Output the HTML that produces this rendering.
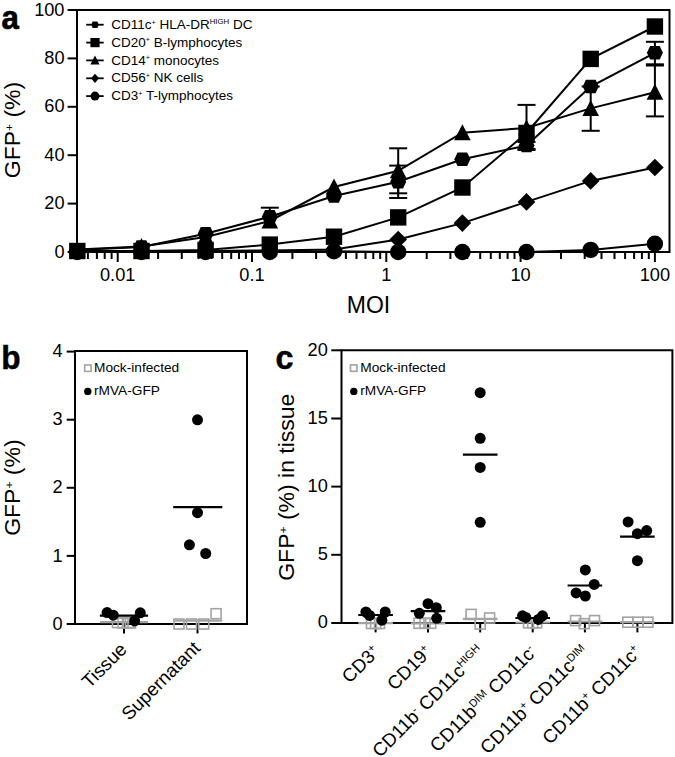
<!DOCTYPE html>
<html><head><meta charset="utf-8"><style>
html,body{margin:0;padding:0;background:#fff;}
svg{display:block;}
</style></head><body>
<svg width="675" height="757" viewBox="0 0 675 757" font-family='"Liberation Sans", sans-serif' fill="#000">
<rect width="675" height="757" fill="#fff"/>
<path d="M77.0,10.0 H669.5 V252.0 H77.0 Z" fill="none" stroke="#000" stroke-width="2.0"/>
<line x1="67.6" y1="252.0" x2="77.0" y2="252.0" stroke="#000" stroke-width="2.0"/>
<text x="64.5" y="257.6" font-size="18.2" text-anchor="end">0</text>
<line x1="67.6" y1="203.6" x2="77.0" y2="203.6" stroke="#000" stroke-width="2.0"/>
<text x="64.5" y="209.2" font-size="18.2" text-anchor="end">20</text>
<line x1="67.6" y1="155.2" x2="77.0" y2="155.2" stroke="#000" stroke-width="2.0"/>
<text x="64.5" y="160.8" font-size="18.2" text-anchor="end">40</text>
<line x1="67.6" y1="106.8" x2="77.0" y2="106.8" stroke="#000" stroke-width="2.0"/>
<text x="64.5" y="112.4" font-size="18.2" text-anchor="end">60</text>
<line x1="67.6" y1="58.4" x2="77.0" y2="58.4" stroke="#000" stroke-width="2.0"/>
<text x="64.5" y="64.0" font-size="18.2" text-anchor="end">80</text>
<line x1="67.6" y1="10.0" x2="77.0" y2="10.0" stroke="#000" stroke-width="2.0"/>
<text x="64.5" y="15.6" font-size="18.2" text-anchor="end">100</text>
<line x1="87.9" y1="252.0" x2="87.9" y2="259" stroke="#000" stroke-width="2.0"/>
<line x1="96.9" y1="252.0" x2="96.9" y2="259" stroke="#000" stroke-width="2.0"/>
<line x1="104.7" y1="252.0" x2="104.7" y2="259" stroke="#000" stroke-width="2.0"/>
<line x1="111.6" y1="252.0" x2="111.6" y2="259" stroke="#000" stroke-width="2.0"/>
<line x1="117.7" y1="252.0" x2="117.7" y2="262" stroke="#000" stroke-width="2.0"/>
<line x1="158.1" y1="252.0" x2="158.1" y2="259" stroke="#000" stroke-width="2.0"/>
<line x1="181.8" y1="252.0" x2="181.8" y2="259" stroke="#000" stroke-width="2.0"/>
<line x1="198.6" y1="252.0" x2="198.6" y2="259" stroke="#000" stroke-width="2.0"/>
<line x1="211.6" y1="252.0" x2="211.6" y2="259" stroke="#000" stroke-width="2.0"/>
<line x1="222.2" y1="252.0" x2="222.2" y2="259" stroke="#000" stroke-width="2.0"/>
<line x1="231.2" y1="252.0" x2="231.2" y2="259" stroke="#000" stroke-width="2.0"/>
<line x1="239.0" y1="252.0" x2="239.0" y2="259" stroke="#000" stroke-width="2.0"/>
<line x1="245.9" y1="252.0" x2="245.9" y2="259" stroke="#000" stroke-width="2.0"/>
<line x1="252.0" y1="252.0" x2="252.0" y2="262" stroke="#000" stroke-width="2.0"/>
<line x1="292.4" y1="252.0" x2="292.4" y2="259" stroke="#000" stroke-width="2.0"/>
<line x1="316.1" y1="252.0" x2="316.1" y2="259" stroke="#000" stroke-width="2.0"/>
<line x1="332.9" y1="252.0" x2="332.9" y2="259" stroke="#000" stroke-width="2.0"/>
<line x1="345.9" y1="252.0" x2="345.9" y2="259" stroke="#000" stroke-width="2.0"/>
<line x1="356.5" y1="252.0" x2="356.5" y2="259" stroke="#000" stroke-width="2.0"/>
<line x1="365.5" y1="252.0" x2="365.5" y2="259" stroke="#000" stroke-width="2.0"/>
<line x1="373.3" y1="252.0" x2="373.3" y2="259" stroke="#000" stroke-width="2.0"/>
<line x1="380.2" y1="252.0" x2="380.2" y2="259" stroke="#000" stroke-width="2.0"/>
<line x1="386.3" y1="252.0" x2="386.3" y2="262" stroke="#000" stroke-width="2.0"/>
<line x1="426.7" y1="252.0" x2="426.7" y2="259" stroke="#000" stroke-width="2.0"/>
<line x1="450.4" y1="252.0" x2="450.4" y2="259" stroke="#000" stroke-width="2.0"/>
<line x1="467.2" y1="252.0" x2="467.2" y2="259" stroke="#000" stroke-width="2.0"/>
<line x1="480.2" y1="252.0" x2="480.2" y2="259" stroke="#000" stroke-width="2.0"/>
<line x1="490.8" y1="252.0" x2="490.8" y2="259" stroke="#000" stroke-width="2.0"/>
<line x1="499.8" y1="252.0" x2="499.8" y2="259" stroke="#000" stroke-width="2.0"/>
<line x1="507.6" y1="252.0" x2="507.6" y2="259" stroke="#000" stroke-width="2.0"/>
<line x1="514.5" y1="252.0" x2="514.5" y2="259" stroke="#000" stroke-width="2.0"/>
<line x1="520.6" y1="252.0" x2="520.6" y2="262" stroke="#000" stroke-width="2.0"/>
<line x1="561.0" y1="252.0" x2="561.0" y2="259" stroke="#000" stroke-width="2.0"/>
<line x1="584.7" y1="252.0" x2="584.7" y2="259" stroke="#000" stroke-width="2.0"/>
<line x1="601.5" y1="252.0" x2="601.5" y2="259" stroke="#000" stroke-width="2.0"/>
<line x1="614.5" y1="252.0" x2="614.5" y2="259" stroke="#000" stroke-width="2.0"/>
<line x1="625.1" y1="252.0" x2="625.1" y2="259" stroke="#000" stroke-width="2.0"/>
<line x1="634.1" y1="252.0" x2="634.1" y2="259" stroke="#000" stroke-width="2.0"/>
<line x1="641.9" y1="252.0" x2="641.9" y2="259" stroke="#000" stroke-width="2.0"/>
<line x1="648.8" y1="252.0" x2="648.8" y2="259" stroke="#000" stroke-width="2.0"/>
<line x1="654.9" y1="252.0" x2="654.9" y2="262" stroke="#000" stroke-width="2.0"/>
<text x="117.7" y="281.2" font-size="18.2" text-anchor="middle">0.01</text>
<text x="252.0" y="281.2" font-size="18.2" text-anchor="middle">0.1</text>
<text x="386.3" y="281.2" font-size="18.2" text-anchor="middle">1</text>
<text x="520.6" y="281.2" font-size="18.2" text-anchor="middle">10</text>
<text x="654.9" y="281.2" font-size="18.2" text-anchor="middle">100</text>
<text x="368.5" y="312.7" font-size="23" text-anchor="middle">MOI</text>
<text transform="translate(20.2,130) scale(0.95,1) rotate(-90)" font-size="23" text-anchor="middle">GFP<tspan font-size="12" dy="-7.5">+</tspan><tspan dy="7.5"> (%)</tspan></text>
<text transform="translate(1.4,28.8) scale(0.92,1)" font-size="34" font-weight="bold" stroke="#000" stroke-width="0.7">a</text>
<g stroke="#000" stroke-width="2" fill="none">
<line x1="654.9" y1="41.8" x2="654.9" y2="64.3"/><line x1="645.9" y1="41.8" x2="663.9" y2="41.8"/><line x1="645.9" y1="64.3" x2="663.9" y2="64.3"/>
<line x1="654.9" y1="65.5" x2="654.9" y2="116.4"/><line x1="645.9" y1="65.5" x2="663.9" y2="65.5"/><line x1="645.9" y1="116.4" x2="663.9" y2="116.4"/>
<line x1="590.7" y1="86.5" x2="590.7" y2="130.8"/><line x1="581.7" y1="86.5" x2="599.7" y2="86.5"/><line x1="581.7" y1="130.8" x2="599.7" y2="130.8"/>
<line x1="526.5" y1="104.9" x2="526.5" y2="150.0"/><line x1="517.5" y1="104.9" x2="535.5" y2="104.9"/><line x1="517.5" y1="150.0" x2="535.5" y2="150.0"/>
<line x1="398.2" y1="148.3" x2="398.2" y2="193.3"/><line x1="389.2" y1="148.3" x2="407.2" y2="148.3"/><line x1="389.2" y1="193.3" x2="407.2" y2="193.3"/>
<line x1="398.2" y1="165.6" x2="398.2" y2="198.0"/><line x1="389.2" y1="165.6" x2="407.2" y2="165.6"/><line x1="389.2" y1="198.0" x2="407.2" y2="198.0"/>
<line x1="269.8" y1="207.7" x2="269.8" y2="216.7"/><line x1="260.8" y1="207.7" x2="278.8" y2="207.7"/>
<line x1="526.5" y1="142.0" x2="526.5" y2="148.9"/><line x1="517.5" y1="142.0" x2="535.5" y2="142.0"/><line x1="517.5" y1="148.9" x2="535.5" y2="148.9"/>
<path d="M654.9,243.8 L590.7,249.9 L526.5,252.0 L462.4,252.0 L398.2,252.0 L334.0,251.3 L269.8,252.0 L205.6,252.0 L141.5,252.0 L77.3,252.0"/>
<path d="M654.9,167.5 L590.7,180.9 L526.5,201.9 L462.4,223.1 L398.2,239.5 L334.0,249.5 L269.8,250.5 L205.6,251.0 L141.5,251.0 L77.3,251.0"/>
<path d="M654.9,92.2 L590.7,108.4 L526.5,128.0 L462.4,132.7 L398.2,170.8 L334.0,187.0 L269.8,221.0 L205.6,237.0 L141.5,246.5 L77.3,249.5"/>
<path d="M654.9,26.5 L590.7,58.9 L526.5,133.0 L462.4,187.5 L398.2,217.4 L334.0,236.7 L269.8,244.6 L205.6,250.0 L141.5,251.0 L77.3,251.0"/>
<path d="M654.9,52.8 L590.7,86.5 L526.5,145.5 L462.4,159.3 L398.2,181.8 L334.0,196.0 L269.8,216.7 L205.6,233.8 L141.5,247.0 L77.3,250.0"/>
</g>
<g fill="#000">
<circle cx="654.9" cy="243.8" r="8.2"/>
<circle cx="590.7" cy="249.9" r="8.2"/>
<circle cx="526.5" cy="252.0" r="8.2"/>
<circle cx="462.4" cy="252.0" r="8.2"/>
<circle cx="398.2" cy="252.0" r="8.2"/>
<circle cx="334.0" cy="251.3" r="8.2"/>
<circle cx="269.8" cy="252.0" r="8.2"/>
<circle cx="205.6" cy="252.0" r="8.2"/>
<circle cx="141.5" cy="252.0" r="8.2"/>
<circle cx="77.3" cy="252.0" r="8.2"/>
<path d="M654.9,158.7 L663.7,167.5 L654.9,176.3 L646.1,167.5Z"/>
<path d="M590.7,172.1 L599.5,180.9 L590.7,189.7 L581.9,180.9Z"/>
<path d="M526.5,193.1 L535.3,201.9 L526.5,210.7 L517.7,201.9Z"/>
<path d="M462.4,214.3 L471.2,223.1 L462.4,231.9 L453.6,223.1Z"/>
<path d="M398.2,230.7 L407.0,239.5 L398.2,248.3 L389.4,239.5Z"/>
<path d="M334.0,240.7 L342.8,249.5 L334.0,258.3 L325.2,249.5Z"/>
<path d="M269.8,241.7 L278.6,250.5 L269.8,259.3 L261.0,250.5Z"/>
<path d="M205.6,242.2 L214.4,251.0 L205.6,259.8 L196.8,251.0Z"/>
<path d="M141.5,242.2 L150.3,251.0 L141.5,259.8 L132.7,251.0Z"/>
<path d="M77.3,242.2 L86.1,251.0 L77.3,259.8 L68.5,251.0Z"/>
<path d="M654.9,83.7 L663.2,99.7 L646.6,99.7Z"/>
<path d="M590.7,99.9 L599.0,115.9 L582.4,115.9Z"/>
<path d="M526.5,119.5 L534.8,135.5 L518.2,135.5Z"/>
<path d="M462.4,124.2 L470.7,140.2 L454.1,140.2Z"/>
<path d="M398.2,162.3 L406.5,178.3 L389.9,178.3Z"/>
<path d="M334.0,178.5 L342.3,194.5 L325.7,194.5Z"/>
<path d="M269.8,212.5 L278.1,228.5 L261.5,228.5Z"/>
<path d="M205.6,228.5 L213.9,244.5 L197.3,244.5Z"/>
<path d="M141.5,238.0 L149.8,254.0 L133.2,254.0Z"/>
<path d="M77.3,241.0 L85.6,257.0 L69.0,257.0Z"/>
<rect x="646.7" y="18.3" width="16.4" height="16.4"/>
<rect x="582.5" y="50.7" width="16.4" height="16.4"/>
<rect x="518.3" y="124.8" width="16.4" height="16.4"/>
<rect x="454.2" y="179.3" width="16.4" height="16.4"/>
<rect x="390.0" y="209.2" width="16.4" height="16.4"/>
<rect x="325.8" y="228.5" width="16.4" height="16.4"/>
<rect x="261.6" y="236.4" width="16.4" height="16.4"/>
<rect x="197.4" y="241.8" width="16.4" height="16.4"/>
<rect x="133.3" y="242.8" width="16.4" height="16.4"/>
<rect x="69.1" y="242.8" width="16.4" height="16.4"/>
<path d="M646.9,52.8 L650.1,46.1 L659.7,46.1 L662.9,52.8 L659.7,59.5 L650.1,59.5Z"/>
<path d="M582.7,86.5 L585.9,79.8 L595.6,79.8 L598.7,86.5 L595.6,93.2 L585.9,93.2Z"/>
<path d="M518.6,145.5 L521.7,138.8 L531.4,138.8 L534.5,145.5 L531.4,152.2 L521.7,152.2Z"/>
<path d="M454.4,159.3 L457.5,152.6 L467.2,152.6 L470.3,159.3 L467.2,166.0 L457.5,166.0Z"/>
<path d="M390.2,181.8 L393.3,175.1 L403.0,175.1 L406.2,181.8 L403.0,188.5 L393.3,188.5Z"/>
<path d="M326.0,196.0 L329.2,189.3 L338.8,189.3 L342.0,196.0 L338.8,202.7 L329.2,202.7Z"/>
<path d="M261.8,216.7 L265.0,210.0 L274.6,210.0 L277.8,216.7 L274.6,223.4 L265.0,223.4Z"/>
<path d="M197.7,233.8 L200.8,227.1 L210.5,227.1 L213.6,233.8 L210.5,240.5 L200.8,240.5Z"/>
<path d="M133.5,247.0 L136.6,240.3 L146.3,240.3 L149.4,247.0 L146.3,253.7 L136.6,253.7Z"/>
<path d="M69.3,250.0 L72.4,243.3 L82.1,243.3 L85.3,250.0 L82.1,256.7 L72.4,256.7Z"/>
</g>
<line x1="86.2" y1="24.7" x2="103.7" y2="24.7" stroke="#000" stroke-width="1.8"/>
<text x="111.2" y="28.8" font-size="13.5">CD11c<tspan font-size="7.2" dy="-4.3">+</tspan><tspan dy="4.3"> HLA-DR</tspan><tspan font-size="7.8" dy="-5">HIGH</tspan><tspan dy="5"> DC</tspan></text>
<line x1="86.2" y1="42.6" x2="103.7" y2="42.6" stroke="#000" stroke-width="1.8"/>
<text x="111.2" y="46.7" font-size="13.5">CD20<tspan font-size="7.2" dy="-4.3">+</tspan><tspan dy="4.3"> B-lymphocytes</tspan></text>
<line x1="86.2" y1="60.4" x2="103.7" y2="60.4" stroke="#000" stroke-width="1.8"/>
<text x="111.2" y="64.5" font-size="13.5">CD14<tspan font-size="7.2" dy="-4.3">+</tspan><tspan dy="4.3"> monocytes</tspan></text>
<line x1="86.2" y1="78.3" x2="103.7" y2="78.3" stroke="#000" stroke-width="1.8"/>
<text x="111.2" y="82.4" font-size="13.5">CD56<tspan font-size="7.2" dy="-4.3">+</tspan><tspan dy="4.3"> NK cells</tspan></text>
<line x1="86.2" y1="96.1" x2="103.7" y2="96.1" stroke="#000" stroke-width="1.8"/>
<text x="111.2" y="100.2" font-size="13.5">CD3<tspan font-size="7.2" dy="-4.3">+</tspan><tspan dy="4.3"> T-lymphocytes</tspan></text>
<g fill="#000">
<path d="M91.2,24.7 L92.7,21.5 L97.3,21.5 L98.8,24.7 L97.3,27.9 L92.7,27.9Z"/>
<rect x="90.4" y="38.0" width="9.2" height="9.2"/>
<path d="M95.0,55.5 L99.6,64.5 L90.4,64.5Z"/>
<path d="M95.0,73.7 L99.0,78.3 L95.0,82.9 L91.0,78.3Z"/>
<circle cx="95.0" cy="96.1" r="4.5"/>
</g>
<path d="M75.0,351.0 H247.0 V624.0 H75.0 Z" fill="none" stroke="#000" stroke-width="2.0"/>
<line x1="66.7" y1="624.0" x2="75.0" y2="624.0" stroke="#000" stroke-width="2.0"/>
<text x="62.6" y="629.6" font-size="18.2" text-anchor="end">0</text>
<line x1="66.7" y1="555.9" x2="75.0" y2="555.9" stroke="#000" stroke-width="2.0"/>
<text x="62.6" y="561.5" font-size="18.2" text-anchor="end">1</text>
<line x1="66.7" y1="487.8" x2="75.0" y2="487.8" stroke="#000" stroke-width="2.0"/>
<text x="62.6" y="493.4" font-size="18.2" text-anchor="end">2</text>
<line x1="66.7" y1="419.7" x2="75.0" y2="419.7" stroke="#000" stroke-width="2.0"/>
<text x="62.6" y="425.3" font-size="18.2" text-anchor="end">3</text>
<line x1="66.7" y1="351.6" x2="75.0" y2="351.6" stroke="#000" stroke-width="2.0"/>
<text x="62.6" y="357.2" font-size="18.2" text-anchor="end">4</text>
<line x1="124.0" y1="624.0" x2="124.0" y2="633.4" stroke="#000" stroke-width="2.0"/>
<line x1="197.5" y1="624.0" x2="197.5" y2="633.4" stroke="#000" stroke-width="2.0"/>
<text transform="translate(1.3,368.6) scale(0.93,1)" font-size="34" font-weight="bold" stroke="#000" stroke-width="0.5">b</text>
<text transform="translate(20.3,487.6) scale(0.95,1) rotate(-90)" font-size="23" text-anchor="middle">GFP<tspan font-size="12" dy="-7.5">+</tspan><tspan dy="7.5"> (%)</tspan></text>
<text transform="translate(127.9,650.6) rotate(-45)" font-size="18.7" text-anchor="end">Tissue</text>
<text transform="translate(201.3,649.3) rotate(-45)" font-size="18.7" text-anchor="end">Supernatant</text>
<rect x="84.7" y="365.0" width="6.4" height="6.4" fill="none" stroke="#a3a3a3" stroke-width="1.6"/>
<text x="94" y="372.3" font-size="13.7">Mock-infected</text>
<circle cx="87.8" cy="391.4" r="3.7" fill="#000"/>
<text x="94" y="394.5" font-size="13.7">rMVA-GFP</text>
<rect x="112.5" y="617.6" width="10.0" height="10.0" fill="none" stroke="#a3a3a3" stroke-width="1.6"/>
<rect x="118.0" y="618.0" width="10.0" height="10.0" fill="none" stroke="#a3a3a3" stroke-width="1.6"/>
<rect x="123.5" y="617.6" width="10.0" height="10.0" fill="none" stroke="#a3a3a3" stroke-width="1.6"/>
<rect x="125.5" y="618.0" width="10.0" height="10.0" fill="none" stroke="#a3a3a3" stroke-width="1.6"/>
<line x1="99.9" y1="622.2" x2="148.1" y2="622.2" stroke="#a3a3a3" stroke-width="2.2"/>
<circle cx="107.1" cy="612.6" r="5.5" fill="#000"/>
<circle cx="113.3" cy="615.2" r="5.5" fill="#000"/>
<circle cx="140.3" cy="612.8" r="5.5" fill="#000"/>
<circle cx="134.6" cy="620.9" r="5.5" fill="#000"/>
<line x1="99.9" y1="615.7" x2="148.1" y2="615.7" stroke="#000" stroke-width="2.2"/>
<rect x="174.0" y="619.0" width="10.0" height="10.0" fill="none" stroke="#a3a3a3" stroke-width="1.6"/>
<rect x="186.5" y="619.0" width="10.0" height="10.0" fill="none" stroke="#a3a3a3" stroke-width="1.6"/>
<rect x="198.7" y="619.0" width="10.0" height="10.0" fill="none" stroke="#a3a3a3" stroke-width="1.6"/>
<rect x="211.1" y="608.7" width="10.0" height="10.0" fill="none" stroke="#a3a3a3" stroke-width="1.6"/>
<line x1="173.2" y1="620.6" x2="222.3" y2="620.6" stroke="#a3a3a3" stroke-width="2.2"/>
<circle cx="197.5" cy="419.8" r="5.5" fill="#000"/>
<circle cx="197.5" cy="512.7" r="5.5" fill="#000"/>
<circle cx="189.4" cy="544.8" r="5.5" fill="#000"/>
<circle cx="205.7" cy="553.5" r="5.5" fill="#000"/>
<line x1="173.2" y1="507.1" x2="222.3" y2="507.1" stroke="#000" stroke-width="2.2"/>
<path d="M341.5,350.3 H672.4 V623.0 H341.5 Z" fill="none" stroke="#000" stroke-width="2.0"/>
<line x1="331.3" y1="623.0" x2="341.5" y2="623.0" stroke="#000" stroke-width="2.0"/>
<text x="327.8" y="628.2" font-size="18.2" text-anchor="end">0</text>
<line x1="331.3" y1="554.8" x2="341.5" y2="554.8" stroke="#000" stroke-width="2.0"/>
<text x="327.8" y="560.0" font-size="18.2" text-anchor="end">5</text>
<line x1="331.3" y1="486.6" x2="341.5" y2="486.6" stroke="#000" stroke-width="2.0"/>
<text x="327.8" y="491.8" font-size="18.2" text-anchor="end">10</text>
<line x1="331.3" y1="418.5" x2="341.5" y2="418.5" stroke="#000" stroke-width="2.0"/>
<text x="327.8" y="423.7" font-size="18.2" text-anchor="end">15</text>
<line x1="331.3" y1="350.3" x2="341.5" y2="350.3" stroke="#000" stroke-width="2.0"/>
<text x="327.8" y="355.5" font-size="18.2" text-anchor="end">20</text>
<line x1="375.6" y1="623.0" x2="375.6" y2="632.4" stroke="#000" stroke-width="2.0"/>
<line x1="428.0" y1="623.0" x2="428.0" y2="632.4" stroke="#000" stroke-width="2.0"/>
<line x1="480.2" y1="623.0" x2="480.2" y2="632.4" stroke="#000" stroke-width="2.0"/>
<line x1="532.7" y1="623.0" x2="532.7" y2="632.4" stroke="#000" stroke-width="2.0"/>
<line x1="584.9" y1="623.0" x2="584.9" y2="632.4" stroke="#000" stroke-width="2.0"/>
<line x1="637.4" y1="623.0" x2="637.4" y2="632.4" stroke="#000" stroke-width="2.0"/>
<text transform="translate(275.4,368.6) scale(0.95,1)" font-size="34" font-weight="bold" stroke="#000" stroke-width="0.5">c</text>
<text transform="translate(293.9,487.2) scale(0.95,1) rotate(-90)" font-size="23" text-anchor="middle">GFP<tspan font-size="12" dy="-7.5">+</tspan><tspan dy="7.5"> (%) in tissue</tspan></text>
<rect x="350.5" y="364.9" width="6.4" height="6.4" fill="none" stroke="#a3a3a3" stroke-width="1.6"/>
<text x="360.3" y="372.3" font-size="13.7">Mock-infected</text>
<circle cx="353.8" cy="391.4" r="3.7" fill="#000"/>
<text x="360.3" y="394.5" font-size="13.7">rMVA-GFP</text>
<text transform="translate(380.6,653) rotate(-45)" font-size="18.7" text-anchor="end">CD3<tspan font-size="11" dy="-6.5">+</tspan></text>
<text transform="translate(433.0,653) rotate(-45)" font-size="18.7" text-anchor="end">CD19<tspan font-size="11" dy="-6.5">+</tspan></text>
<text transform="translate(485.2,653) rotate(-45)" font-size="18.7" text-anchor="end">CD11b<tspan font-size="11" dy="-6.5">-</tspan><tspan dy="6.5"> CD11c</tspan><tspan font-size="11" dy="-6.5">HIGH</tspan></text>
<text transform="translate(537.7,653) rotate(-45)" font-size="18.7" text-anchor="end">CD11b<tspan font-size="11" dy="-6.5">DIM</tspan><tspan dy="6.5"> CD11c</tspan><tspan font-size="11" dy="-6.5">-</tspan></text>
<text transform="translate(589.9,653) rotate(-45)" font-size="18.7" text-anchor="end">CD11b<tspan font-size="11" dy="-6.5">+</tspan><tspan dy="6.5"> CD11c</tspan><tspan font-size="11" dy="-6.5">DIM</tspan></text>
<text transform="translate(642.4,653) rotate(-45)" font-size="18.7" text-anchor="end">CD11b<tspan font-size="11" dy="-6.5">+</tspan><tspan dy="6.5"> CD11c</tspan><tspan font-size="11" dy="-6.5">+</tspan></text>
<rect x="366.5" y="618.5" width="10.0" height="10.0" fill="none" stroke="#a3a3a3" stroke-width="1.6"/>
<rect x="370.6" y="618.5" width="10.0" height="10.0" fill="none" stroke="#a3a3a3" stroke-width="1.6"/>
<rect x="374.5" y="618.5" width="10.0" height="10.0" fill="none" stroke="#a3a3a3" stroke-width="1.6"/>
<line x1="358.3" y1="623.1" x2="392.9" y2="623.1" stroke="#a3a3a3" stroke-width="2.2"/>
<circle cx="365.9" cy="612.0" r="5.5" fill="#000"/>
<circle cx="369.6" cy="615.4" r="5.5" fill="#000"/>
<circle cx="385.2" cy="612.0" r="5.5" fill="#000"/>
<circle cx="381.9" cy="620.2" r="5.5" fill="#000"/>
<line x1="358.3" y1="615.0" x2="392.9" y2="615.0" stroke="#000" stroke-width="2.2"/>
<rect x="414.0" y="618.3" width="10.0" height="10.0" fill="none" stroke="#a3a3a3" stroke-width="1.6"/>
<rect x="420.0" y="618.3" width="10.0" height="10.0" fill="none" stroke="#a3a3a3" stroke-width="1.6"/>
<rect x="425.7" y="618.3" width="10.0" height="10.0" fill="none" stroke="#a3a3a3" stroke-width="1.6"/>
<line x1="410.7" y1="623.3" x2="445.3" y2="623.3" stroke="#a3a3a3" stroke-width="2.2"/>
<circle cx="428.0" cy="603.7" r="5.5" fill="#000"/>
<circle cx="436.3" cy="607.7" r="5.5" fill="#000"/>
<circle cx="419.3" cy="613.3" r="5.5" fill="#000"/>
<circle cx="436.7" cy="618.3" r="5.5" fill="#000"/>
<line x1="410.7" y1="611.2" x2="445.3" y2="611.2" stroke="#000" stroke-width="2.2"/>
<rect x="466.1" y="609.4" width="10.0" height="10.0" fill="none" stroke="#a3a3a3" stroke-width="1.6"/>
<rect x="484.6" y="613.0" width="10.0" height="10.0" fill="none" stroke="#a3a3a3" stroke-width="1.6"/>
<rect x="475.2" y="619.0" width="10.0" height="10.0" fill="none" stroke="#a3a3a3" stroke-width="1.6"/>
<line x1="462.9" y1="618.9" x2="497.5" y2="618.9" stroke="#a3a3a3" stroke-width="2.2"/>
<circle cx="480.2" cy="392.7" r="5.5" fill="#000"/>
<circle cx="480.2" cy="438.3" r="5.5" fill="#000"/>
<circle cx="480.2" cy="467.4" r="5.5" fill="#000"/>
<circle cx="480.2" cy="522.3" r="5.5" fill="#000"/>
<line x1="462.9" y1="454.7" x2="497.5" y2="454.7" stroke="#000" stroke-width="2.2"/>
<rect x="523.5" y="617.8" width="10.0" height="10.0" fill="none" stroke="#a3a3a3" stroke-width="1.6"/>
<rect x="527.7" y="617.8" width="10.0" height="10.0" fill="none" stroke="#a3a3a3" stroke-width="1.6"/>
<rect x="531.7" y="617.8" width="10.0" height="10.0" fill="none" stroke="#a3a3a3" stroke-width="1.6"/>
<line x1="515.4" y1="622.5" x2="550.0" y2="622.5" stroke="#a3a3a3" stroke-width="2.2"/>
<circle cx="522.5" cy="615.8" r="5.5" fill="#000"/>
<circle cx="525.8" cy="617.4" r="5.5" fill="#000"/>
<circle cx="542.5" cy="615.8" r="5.5" fill="#000"/>
<circle cx="538.4" cy="619.4" r="5.5" fill="#000"/>
<line x1="515.4" y1="618.0" x2="550.0" y2="618.0" stroke="#000" stroke-width="2.2"/>
<rect x="570.6" y="615.6" width="10.0" height="10.0" fill="none" stroke="#a3a3a3" stroke-width="1.6"/>
<rect x="589.5" y="615.6" width="10.0" height="10.0" fill="none" stroke="#a3a3a3" stroke-width="1.6"/>
<rect x="579.3" y="618.7" width="10.0" height="10.0" fill="none" stroke="#a3a3a3" stroke-width="1.6"/>
<line x1="567.6" y1="621.5" x2="602.2" y2="621.5" stroke="#a3a3a3" stroke-width="2.2"/>
<circle cx="585.3" cy="569.9" r="5.5" fill="#000"/>
<circle cx="594.2" cy="584.4" r="5.5" fill="#000"/>
<circle cx="576.1" cy="592.9" r="5.5" fill="#000"/>
<circle cx="585.3" cy="596.0" r="5.5" fill="#000"/>
<line x1="567.6" y1="585.5" x2="602.2" y2="585.5" stroke="#000" stroke-width="2.2"/>
<rect x="622.8" y="617.2" width="10.0" height="10.0" fill="none" stroke="#a3a3a3" stroke-width="1.6"/>
<rect x="632.9" y="617.2" width="10.0" height="10.0" fill="none" stroke="#a3a3a3" stroke-width="1.6"/>
<rect x="642.9" y="617.2" width="10.0" height="10.0" fill="none" stroke="#a3a3a3" stroke-width="1.6"/>
<line x1="620.1" y1="622.2" x2="654.7" y2="622.2" stroke="#a3a3a3" stroke-width="2.2"/>
<circle cx="628.1" cy="521.9" r="5.5" fill="#000"/>
<circle cx="637.4" cy="533.7" r="5.5" fill="#000"/>
<circle cx="646.7" cy="530.6" r="5.5" fill="#000"/>
<circle cx="637.4" cy="560.7" r="5.5" fill="#000"/>
<line x1="620.1" y1="536.7" x2="654.7" y2="536.7" stroke="#000" stroke-width="2.2"/>
</svg>
</body></html>
